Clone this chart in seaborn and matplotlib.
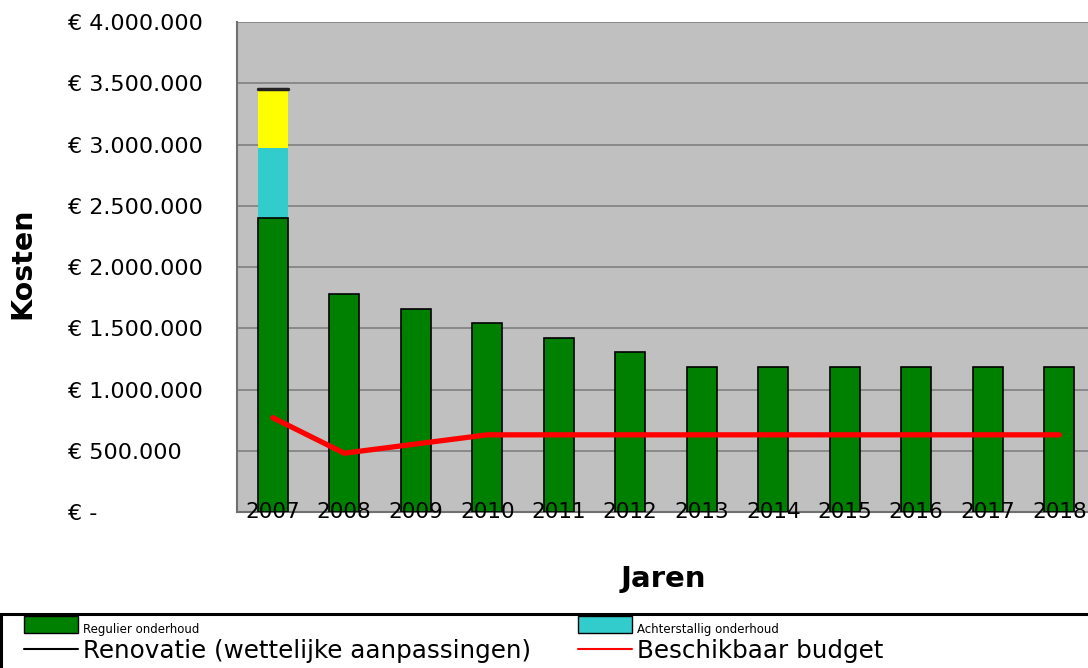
import numpy as np
import pandas as pd
import matplotlib
matplotlib.use("Agg")
import matplotlib.pyplot as plt
import seaborn as sns
from matplotlib.patches import Patch, Rectangle
from matplotlib.lines import Line2D
from matplotlib.ticker import FuncFormatter, MultipleLocator

years = ['2007', '2008', '2009', '2010', '2011', '2012', '2013', '2014', '2015', '2016', '2017', '2018']
regulier = [2400000, 1780000, 1660000, 1545000, 1420000, 1305000, 1185000, 1185000, 1185000, 1185000, 1185000, 1185000]
achterstallig = [570000, 0, 0, 0, 0, 0, 0, 0, 0, 0, 0, 0]
renovatie = [480000, 0, 0, 0, 0, 0, 0, 0, 0, 0, 0, 0]
budget = [770000, 480000, 555000, 630000, 630000, 630000, 630000, 630000, 630000, 630000, 630000, 630000]

sns.set_theme(style="white")
plt.rcParams['font.family'] = ['DejaVu Sans']
plt.rcParams['text.color'] = 'black'
plt.rcParams['axes.labelcolor'] = 'black'
plt.rcParams['xtick.color'] = 'black'
plt.rcParams['ytick.color'] = 'black'

df = pd.DataFrame({'jaar': years, 'regulier': regulier,
                   'achterstallig': achterstallig, 'renovatie': renovatie,
                   'budget': budget})
df['cum2'] = df['regulier'] + df['achterstallig']
df['cum3'] = df['cum2'] + df['renovatie']

fig = plt.figure(figsize=(10.88, 6.68), dpi=100)
ax = fig.add_axes([237/1088, 1 - 512/668, 858/1088, 490/668])
ax.set_facecolor('#C0C0C0')

w = 0.42
sns.barplot(data=df, x='jaar', y='cum3', color='#FFFF00', width=w, ax=ax,
            edgecolor='none', linewidth=0, saturation=1, zorder=2)
sns.barplot(data=df, x='jaar', y='cum2', color='#33CCCC', width=w, ax=ax,
            edgecolor='none', linewidth=0, saturation=1, zorder=3)
sns.barplot(data=df, x='jaar', y='regulier', color='#008000', width=w, ax=ax,
            edgecolor='black', linewidth=1.2, saturation=1, zorder=4)
sns.lineplot(x=np.arange(len(years)), y=df['budget'], color='#FF0000', linewidth=3.8,
             ax=ax, zorder=5)
# black cap line on top of the stacked bar (renovatie series outline)
for p in ax.patches[:len(years)]:
    if p.get_height() > 0 and df['renovatie'].iloc[int(round(p.get_x() + p.get_width() / 2))] > 0:
        ax.plot([p.get_x(), p.get_x() + p.get_width()], [p.get_height()] * 2,
                color='#222222', linewidth=2.5, zorder=6)

ax.set_ylim(0, 4000000)
ax.set_xlim(-0.5, len(years) - 0.5)
ax.yaxis.set_major_locator(MultipleLocator(500000))
def fmt(v, pos):
    if v == 0:
        return '€ -'
    return '€ ' + f'{int(v):,}'.replace(',', '.')
ax.yaxis.set_major_formatter(FuncFormatter(fmt))
ax.grid(axis='y', color='#808080', linewidth=1.2)
ax.set_axisbelow(True)
ax.xaxis.set_zorder(10)

for s in ['top', 'right']:
    ax.spines[s].set_visible(False)
ax.spines['left'].set_color('#707070')
ax.spines['left'].set_linewidth(1.5)
ax.spines['bottom'].set_color('#707070')
ax.spines['bottom'].set_linewidth(1.5)
ax.spines['bottom'].set_zorder(1)

ax.tick_params(axis='y', length=0, pad=122, labelsize=16)
for t in ax.get_yticklabels():
    t.set_ha('left')
ax.tick_params(axis='x', length=0, pad=-7.5, labelsize=15.5)

ax.set_ylabel('Kosten', fontsize=20.5, fontweight='bold')
ax.set_xlabel('Jaren', fontsize=21, fontweight='bold')
ax.xaxis.set_label_coords((663 - 237) / 858, -53 / 490)
ax.yaxis.set_label_coords(-(237 - 36) / 858, (512 - 263) / 490)

handles = [Patch(facecolor='#008000', edgecolor='black'),
           Line2D([0], [0], color='black', linewidth=1.5),
           Patch(facecolor='#33CCCC', edgecolor='black'),
           Line2D([0], [0], color='#FF0000', linewidth=1.5)]
labels = ['Regulier onderhoud', 'Renovatie (wettelijke aanpassingen)',
          'Achterstallig onderhoud', 'Beschikbaar budget']
leg = fig.legend(handles, labels, ncol=2, loc='upper left',
                 bbox_to_anchor=(24/1088, 1 - 616/668), fontsize=17.7,
                 frameon=False, handlelength=2.2,
                 handletextpad=0.2, columnspacing=1.9, labelspacing=0.1,
                 borderpad=0.0, borderaxespad=0)
for t in leg.get_texts():
    if t.get_text() in ('Regulier onderhoud', 'Achterstallig onderhoud'):
        t.set_fontsize(8.5)

fig.patches.append(Rectangle((1/1088, -0.02), 1.05, 0.02 + 1 - 614/668,
                             transform=fig.transFigure, fill=False,
                             edgecolor='black', linewidth=2.2))

fig.savefig('out.png', dpi=100)
